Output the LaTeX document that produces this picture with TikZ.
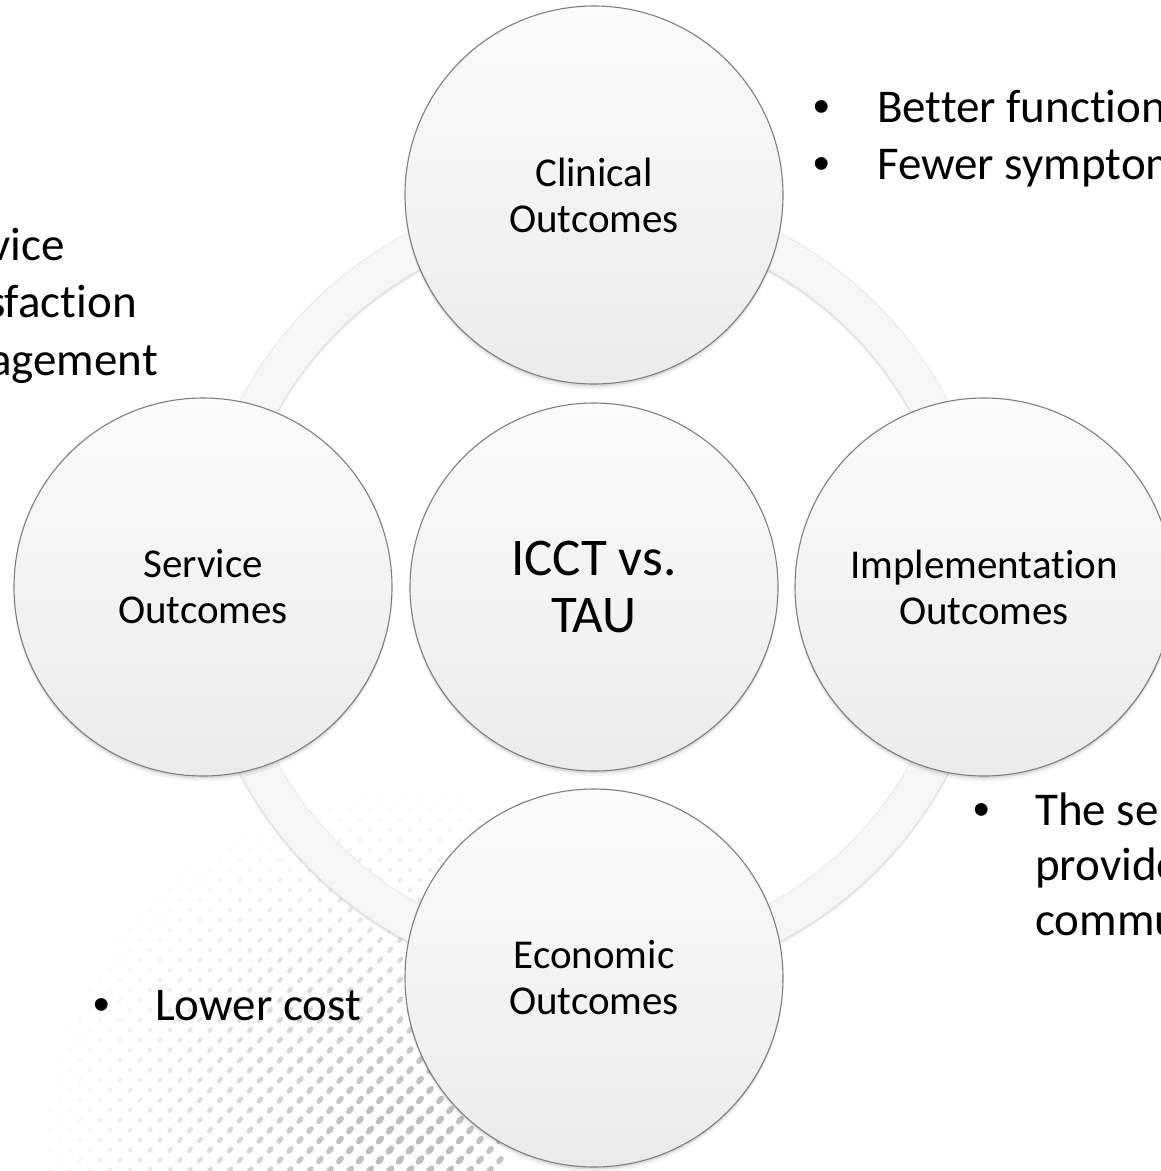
\documentclass[tikz,border=0pt]{standalone}
\usepackage{fontspec}
\setmainfont[Ligatures={NoCommon}]{Carlito}
\newfontfamily\bulletfont{Liberation Sans}
\usetikzlibrary{calc}
\definecolor{circtop}{HTML}{FBFBFB}
\definecolor{circbot}{HTML}{EBEBEB}
\definecolor{ringfill}{HTML}{F6F6F6}
\definecolor{ringedge}{HTML}{E4E4E4}
\definecolor{circedge}{HTML}{7E7E7E}
\definecolor{dotc}{HTML}{BEBEBE}
\tikzset{
  outcome/.style={circle, inner sep=0pt, minimum size=378pt, draw=circedge, line width=1.1pt,
    top color=circtop, bottom color=circbot, align=center,
    font=\fontsize{41}{46}\selectfont,
    preaction={fill=black, fill opacity=0.05, transform canvas={yshift=-5pt}},
    preaction={fill=black, fill opacity=0.09, transform canvas={yshift=-2.5pt}}},
  corecircle/.style={outcome, minimum size=368pt, font=\fontsize{53}{57}\selectfont},
  bulletmark/.style={anchor=base, inner sep=0pt, font=\bulletfont\fontsize{47}{57}\selectfont},
  listline/.style={anchor=base west, inner sep=0pt, font=\fontsize{47}{57}\selectfont},
  listlineR/.style={anchor=base east, inner sep=0pt, font=\fontsize{47}{57}\selectfont},
}
\begin{document}
\begin{tikzpicture}[x=1pt,y=-1pt]
\useasboundingbox (0,0) rectangle (1161,1171);
\clip (0,0) rectangle (1161,1171);
\fill[white] (0,0) rectangle (1161,1171);

% halftone dots, lower left
\begin{scope}
\foreach \i in {0,...,50}{
  \foreach \j in {76,...,118}{
    \pgfmathtruncatemacro\pp{mod(\i+\j,2)}
    \ifnum\pp=0
      \pgfmathsetmacro\xx{10*\i}
      \pgfmathsetmacro\yy{10*\j}
      \pgfmathsetmacro\op{max(0,1-veclen(\xx-410,\yy-1160)/380)}
      \ifdim\op pt>0.04pt
        \pgfmathsetmacro\rx{2.2+3.4*\op}
        \pgfmathsetmacro\ry{1.4+2.0*\op}
        \pgfmathsetmacro\oo{min(1,1.15*\op)}
        \fill[dotc, opacity=\oo] (\xx,\yy) ellipse [x radius=\rx pt, y radius=\ry pt, rotate=50];
      \fi
    \fi
  }
}
\end{scope}

% circle positions
\coordinate (ctr) at (594,587);

% ring
\fill[black, opacity=0.07, even odd rule] ($(ctr)+(0,3)$) circle (400pt) ($(ctr)+(0,3)$) circle (362pt);
\fill[black, opacity=0.05, even odd rule] ($(ctr)+(0,1.5)$) circle (400pt) ($(ctr)+(0,1.5)$) circle (362pt);
\fill[ringfill, even odd rule] (ctr) circle (400pt) (ctr) circle (362pt);
\draw[ringedge, line width=0.6pt] (ctr) circle (400pt) (ctr) circle (362pt);

% circles
\node[outcome] (clin) at (594,195) {Clinical\\Outcomes};
\node[outcome] (serv) at (203,587) {Service\\Outcomes};
\node[outcome] (impl) at (984,587) {Implementation\\Outcomes};
\node[outcome] (econ) at (594,978) {Economic\\Outcomes};
\node[corecircle] (core) at (ctr) {ICCT vs.\\TAU};

% top right list
\node[bulletmark] (b1) at (822,122) {•};
\node[listline] (t1) at (877,122) {Better function};
\node[bulletmark] (b2) at (822,179) {•};
\node[listline] (t2) at (877,179) {Fewer symptom};

% left list (cut by page edge)
\node[listlineR] (l1) at (65,260) {vice};
\node[listlineR] (l2) at (137,317) {sfaction};
\node[listlineR] (l3) at (158,375) {agement};

% bottom right list
\node[bulletmark] (b3) at (982,825) {•};
\node[listline] (r1) at (1035,825) {The se};
\node[listline] (r2) at (1035,880) {provide};
\node[listline] (r3) at (1035,935) {commu};

% bottom left list
\node[bulletmark] (b4) at (102,1020) {•};
\node[listline] (c1) at (155,1020) {Lower cost};
\end{tikzpicture}
\end{document}
